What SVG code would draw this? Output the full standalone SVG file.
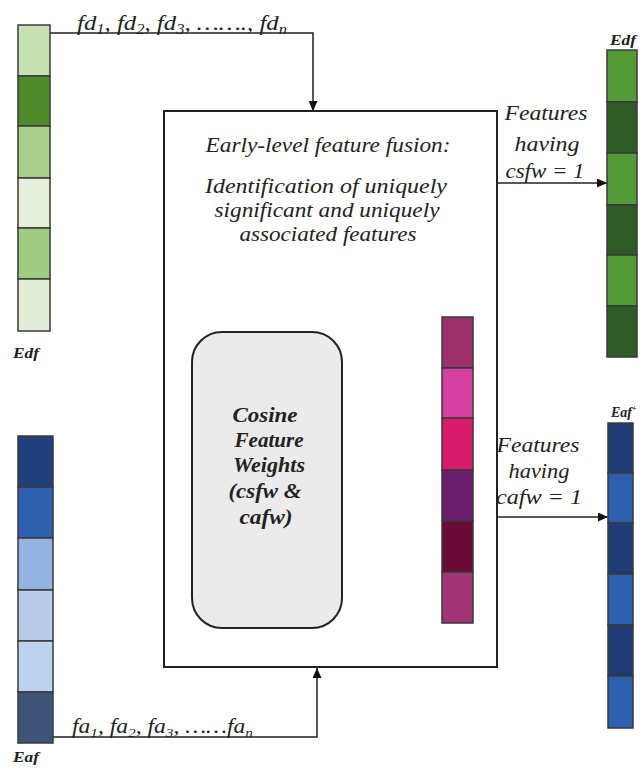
<svg xmlns="http://www.w3.org/2000/svg" width="641" height="772" viewBox="0 0 641 772">
  <defs>
    <marker id="arr" viewBox="0 0 10 10" refX="10" refY="5" markerWidth="10" markerHeight="9" orient="auto-start-reverse" markerUnits="userSpaceOnUse" preserveAspectRatio="none">
      <path d="M0,0 L10,5 L0,10 z" fill="#111"/>
    </marker>
    <style>
      .cell { stroke: #3a3a3a; stroke-width: 1.5; }
      .conn { fill: none; stroke: #222; stroke-width: 1.5; }
    </style>
  </defs>
  <rect width="641" height="772" fill="#fff"/>

  <!-- connectors -->
  <g id="connectors">
    <polyline class="conn" points="50,33 313,33 313,111" marker-end="url(#arr)"/>
    <polyline class="conn" points="53,737 317,737 317,668" marker-end="url(#arr)"/>
    <line class="conn" x1="497" y1="183" x2="607" y2="183" marker-end="url(#arr)"/>
    <line class="conn" x1="497" y1="517" x2="608" y2="517" marker-end="url(#arr)"/>
    <line class="conn" x1="343" y1="472" x2="442" y2="472" marker-start="url(#arr)" marker-end="url(#arr)"/>
  </g>

  <g font-family="'Liberation Serif', 'Times New Roman', serif" font-style="italic" fill="#222">

  <!-- input green vector -->
  <g id="edf-input">
    <rect class="cell" x="18" y="25" width="32" height="51" fill="#c6e0b2"/>
    <rect class="cell" x="18" y="76" width="32" height="50" fill="#4e8a2c"/>
    <rect class="cell" x="18" y="126" width="32" height="52" fill="#a9cf8c"/>
    <rect class="cell" x="18" y="178" width="32" height="50" fill="#e6efdc"/>
    <rect class="cell" x="18" y="228" width="32" height="51" fill="#a0cb80"/>
    <rect class="cell" x="18" y="279" width="32" height="52" fill="#e3eed9"/>
    <text x="13" y="358" font-size="14" font-weight="bold" textLength="26" lengthAdjust="spacingAndGlyphs">Edf</text>
  </g>

  <!-- input blue vector -->
  <g id="eaf-input">
    <rect class="cell" x="18" y="436" width="35" height="51" fill="#213f7c"/>
    <rect class="cell" x="18" y="487" width="35" height="51" fill="#2d5fae"/>
    <rect class="cell" x="18" y="538" width="35" height="52" fill="#94b3de"/>
    <rect class="cell" x="18" y="590" width="35" height="51" fill="#b9cdea"/>
    <rect class="cell" x="18" y="641" width="35" height="51" fill="#bdd2ee"/>
    <rect class="cell" x="18" y="692" width="35" height="51" fill="#3e5479"/>
    <text x="13" y="762" font-size="14" font-weight="bold" textLength="26" lengthAdjust="spacingAndGlyphs">Eaf</text>
  </g>

  <!-- input labels -->
  <g id="fd-label">
    <text x="77" y="30" font-size="21" textLength="210" lengthAdjust="spacingAndGlyphs">fd<tspan font-size="14" dy="4">1</tspan><tspan dy="-4">, fd</tspan><tspan font-size="14" dy="4">2</tspan><tspan dy="-4">, fd</tspan><tspan font-size="14" dy="4">3</tspan><tspan dy="-4">,  ……., fd</tspan><tspan font-size="14" dy="4">n</tspan></text>
  </g>
  <g id="fa-label">
    <text x="72" y="733" font-size="20" textLength="181" lengthAdjust="spacingAndGlyphs">fa<tspan font-size="13" dy="4">1</tspan><tspan dy="-4">, fa</tspan><tspan font-size="13" dy="4">2</tspan><tspan dy="-4">, fa</tspan><tspan font-size="13" dy="4">3</tspan><tspan dy="-4">,  ……fa</tspan><tspan font-size="13" dy="4">n</tspan></text>
  </g>

  <!-- fusion block -->
  <g id="fusion">
    <rect x="164" y="111" width="333" height="556" fill="#fff" stroke="#222" stroke-width="2"/>
    <g font-size="20" text-anchor="middle">
      <text x="328" y="152" textLength="245" lengthAdjust="spacingAndGlyphs">Early-level feature fusion:</text>
      <text x="326" y="193" textLength="242" lengthAdjust="spacingAndGlyphs">Identification of uniquely</text>
      <text x="327" y="217" textLength="225" lengthAdjust="spacingAndGlyphs">significant and uniquely</text>
      <text x="328" y="241" textLength="177" lengthAdjust="spacingAndGlyphs">associated features</text>
    </g>
  </g>

  <!-- cosine weights -->
  <g id="cosine">
    <rect x="192" y="332" width="150" height="296" rx="30" ry="30" fill="#ebebeb" stroke="#222" stroke-width="2"/>
    <g font-weight="bold" font-size="20" text-anchor="middle">
      <text x="265" y="422" textLength="65" lengthAdjust="spacingAndGlyphs">Cosine</text>
      <text x="269" y="447" textLength="69" lengthAdjust="spacingAndGlyphs">Feature</text>
      <text x="269" y="472" textLength="72" lengthAdjust="spacingAndGlyphs">Weights</text>
      <text x="265" y="498" textLength="73" lengthAdjust="spacingAndGlyphs">(csfw &amp;</text>
      <text x="266" y="524" textLength="53" lengthAdjust="spacingAndGlyphs">cafw)</text>
    </g>
  </g>

  <!-- fused weight vector -->
  <g id="weights">
    <rect class="cell" x="442" y="317" width="31" height="51" fill="#9d306b"/>
    <rect class="cell" x="442" y="368" width="31" height="50" fill="#d43fa0"/>
    <rect class="cell" x="442" y="418" width="31" height="52" fill="#d81b6b"/>
    <rect class="cell" x="442" y="470" width="31" height="51" fill="#6a1f6e"/>
    <rect class="cell" x="442" y="521" width="31" height="51" fill="#690b35"/>
    <rect class="cell" x="442" y="572" width="31" height="51" fill="#a23575"/>
  </g>

  <!-- output labels -->
  <g id="csfw-label" font-size="20" text-anchor="middle">
    <text x="546" y="120" textLength="83" lengthAdjust="spacingAndGlyphs">Features</text>
    <text x="547" y="151" textLength="65" lengthAdjust="spacingAndGlyphs">having</text>
    <text x="545" y="178" textLength="79" lengthAdjust="spacingAndGlyphs">csfw = 1</text>
  </g>
  <g id="cafw-label" font-size="20" text-anchor="middle">
    <text x="538" y="452" textLength="83" lengthAdjust="spacingAndGlyphs">Features</text>
    <text x="539" y="478" textLength="61" lengthAdjust="spacingAndGlyphs">having</text>
    <text x="539" y="504" textLength="86" lengthAdjust="spacingAndGlyphs">cafw = 1</text>
  </g>

  <!-- output green vector -->
  <g id="edf-output">
    <text x="610" y="45" font-size="14" font-weight="bold" textLength="26" lengthAdjust="spacingAndGlyphs">Edf</text>
    <rect class="cell" x="607" y="50" width="30" height="52" fill="#559a38"/>
    <rect class="cell" x="607" y="102" width="30" height="51" fill="#2f5b26"/>
    <rect class="cell" x="607" y="153" width="30" height="52" fill="#559a38"/>
    <rect class="cell" x="607" y="205" width="30" height="50" fill="#2f5b26"/>
    <rect class="cell" x="607" y="255" width="30" height="51" fill="#559a38"/>
    <rect class="cell" x="607" y="306" width="30" height="51" fill="#2f5b26"/>
  </g>

  <!-- output blue vector -->
  <g id="eaf-output">
    <text x="611" y="417" font-size="14" font-weight="bold">Eaf<tspan font-size="8" dy="-6">+</tspan></text>
    <rect class="cell" x="608" y="423" width="25" height="50" fill="#1f3b74"/>
    <rect class="cell" x="608" y="473" width="25" height="50" fill="#2e5fae"/>
    <rect class="cell" x="608" y="523" width="25" height="51" fill="#1f3b74"/>
    <rect class="cell" x="608" y="574" width="25" height="51" fill="#2e5fae"/>
    <rect class="cell" x="608" y="625" width="25" height="51" fill="#1f3b74"/>
    <rect class="cell" x="608" y="676" width="25" height="52" fill="#2e5fae"/>
  </g>

  </g>
</svg>
